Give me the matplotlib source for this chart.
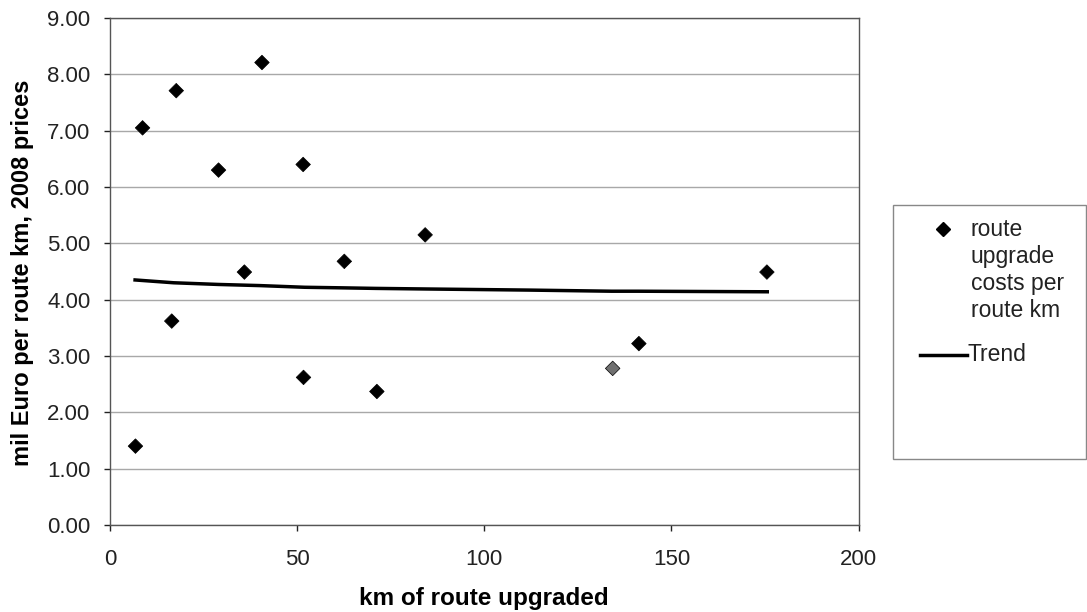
import matplotlib
matplotlib.use("Agg")
import matplotlib.pyplot as plt
from matplotlib.patches import Rectangle
from matplotlib.lines import Line2D

plt.rcParams['font.family'] = ['Liberation Sans', 'DejaVu Sans']

# km of route upgraded vs. cost per route km (mil Euro, 2008 prices)
km = [6.8, 8.7, 16.5, 17.7, 29.0, 35.9, 40.6, 51.6, 51.7, 62.6, 71.3, 84.2, 134.3, 141.3, 175.5]
cost = [1.40, 7.05, 3.62, 7.71, 6.30, 4.49, 8.21, 6.40, 2.62, 4.68, 2.37, 5.15, 2.78, 3.22, 4.49]
grey_point = 12  # the one marker that prints grey in the source

# trend line
trend_km = [6.7, 17, 29, 40, 52, 62, 71, 84, 112, 134, 141, 175.6]
trend_val = [4.35, 4.30, 4.27, 4.25, 4.22, 4.21, 4.20, 4.19, 4.17, 4.15, 4.15, 4.14]

yticks = [0, 1, 2, 3, 4, 5, 6, 7, 8, 9]
xticks = [0, 50, 100, 150, 200]

W, H = 1087, 612
fig = plt.figure(figsize=(W / 100, H / 100), dpi=100)
ax = fig.add_axes([110 / W, 1 - 525 / H, 748.6 / W, 507 / H])

ax.set_xlim(0, 200)
ax.set_ylim(0, 9)
ax.set_yticks(yticks)
ax.set_yticklabels([f"{v:.2f}" for v in yticks])
ax.set_xticks(xticks)
ax.grid(axis='y', color='#a8a8a8', linewidth=1.0)
ax.set_axisbelow(True)
for s in ax.spines.values():
    s.set_color('#555555')
    s.set_linewidth(1.0)

ax.tick_params(axis='both', labelsize=16, colors='#222222', length=4, width=1)
ax.tick_params(axis='y', pad=10)
ax.tick_params(axis='x', pad=13)

ax.plot(trend_km, trend_val, color='black', linewidth=2.5, zorder=3)
cols = ['#707070' if i == grey_point else 'black' for i in range(len(km))]
ax.scatter(km, cost, marker='D', s=55, c=cols, edgecolors='black', linewidths=0.5, zorder=4)

ax.set_xlabel("km of route upgraded", fontsize=17.5, fontweight='bold')
ax.set_ylabel("mil Euro per route km, 2008 prices", fontsize=17, fontweight='bold')
ax.xaxis.set_label_coords(0.5, -0.122)
ax.yaxis.set_label_coords(-0.101, 0.497)

# legend box, drawn in pixel-like figure coords
def fx(px):
    return px / W

def fy(py):
    return 1 - py / H

fig.patches.append(Rectangle((fx(893), fy(459)), fx(193), 254 / H,
                             transform=fig.transFigure, facecolor='white',
                             edgecolor='#888888', linewidth=1.0))
fig.lines.append(Line2D([fx(943)], [fy(229)], marker='D', markersize=7, color='black',
                        linestyle='none', transform=fig.transFigure))
fig.lines.append(Line2D([fx(920), fx(967)], [fy(355), fy(355)], color='black',
                        linewidth=2.5, transform=fig.transFigure))
legend_lines = ["route", "upgrade", "costs per", "route km"]
for i, t in enumerate(legend_lines):
    fig.text(fx(971), fy(229 + 27.3 * i), t, fontsize=16.5, va='center', ha='left', color='#222222')
fig.text(fx(968), fy(354), "Trend", fontsize=16.5, va='center', ha='left', color='#222222')

fig.savefig("out.png", dpi=100)
